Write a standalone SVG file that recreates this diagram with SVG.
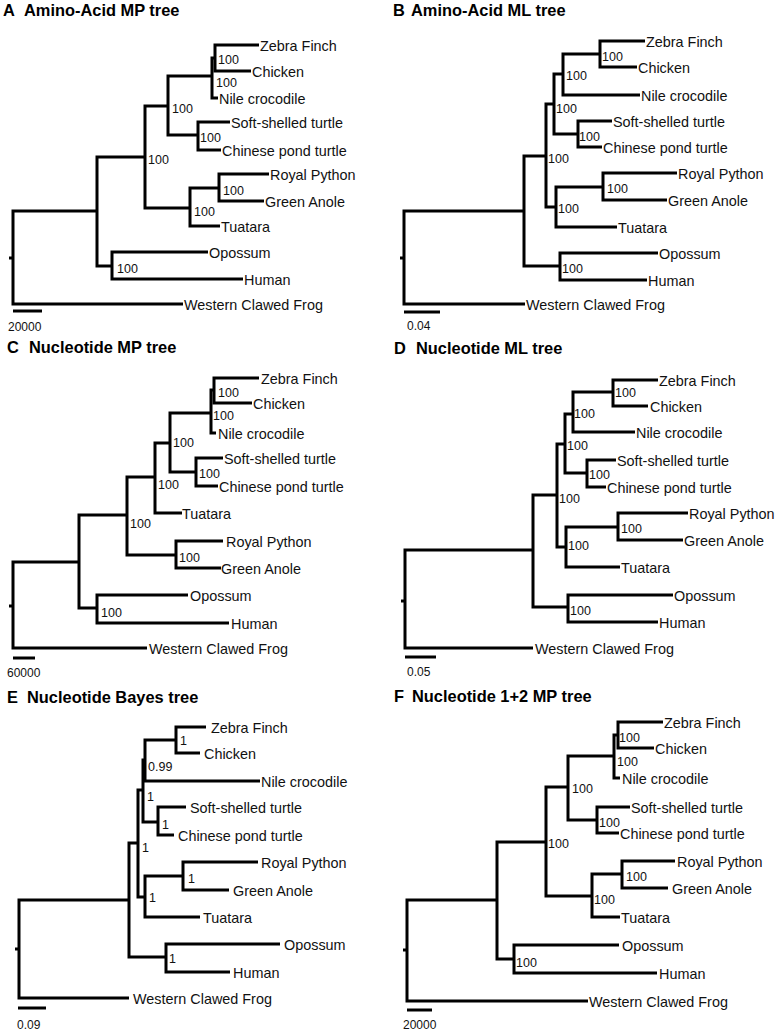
<svg xmlns="http://www.w3.org/2000/svg" width="777" height="1033" viewBox="0 0 777 1033">
<style>
.e{fill:none;stroke:#000;stroke-width:3;stroke-linejoin:miter;stroke-linecap:butt}
.t{font-family:"Liberation Sans",Arial,sans-serif;font-size:14.4px;fill:#111}
.s{font-family:"Liberation Sans",Arial,sans-serif;font-size:12.5px;fill:#111}
.k{font-family:"Liberation Sans",Arial,sans-serif;font-size:12px;fill:#111}
.h{font-family:"Liberation Sans",Arial,sans-serif;font-size:16.4px;font-weight:bold;fill:#000}
</style>
<rect width="777" height="1033" fill="#fff"/>

<!-- Panel A -->
<g id="panelA">
<g id="A-title"><text class="h" x="3" y="16">A</text><text class="h" x="24" y="16">Amino-Acid MP tree</text></g>
<g id="A-edges">
<path class="e" d="M97,211 H13 V304 H183"/>
<path class="e" d="M145,157 H97 V266 H112"/>
<path class="e" d="M168,106 H145 V208 H190"/>
<path class="e" d="M208,252 H112 V279 H243"/>
<path class="e" d="M212,76 H168 V135 H198"/>
<path class="e" d="M215,58 H212 V98 H218"/>
<path class="e" d="M259,45 H215 V71 H251"/>
<path class="e" d="M230,122 H198 V150 H221"/>
<path class="e" d="M219,188 H190 V226 H220"/>
<path class="e" d="M269,174 H219 V201 H264"/>
<path class="e" d="M9,258 H13"/>
<path class="e" d="M13,311 H42"/>
</g>
<g id="A-leaves">
<text class="t" x="260" y="51">Zebra Finch</text>
<text class="t" x="252" y="77">Chicken</text>
<text class="t" x="219" y="104">Nile crocodile</text>
<text class="t" x="231" y="128">Soft-shelled turtle</text>
<text class="t" x="222" y="156">Chinese pond turtle</text>
<text class="t" x="270" y="180">Royal Python</text>
<text class="t" x="265" y="207">Green Anole</text>
<text class="t" x="221" y="232">Tuatara</text>
<text class="t" x="209" y="258">Opossum</text>
<text class="t" x="244" y="285">Human</text>
<text class="t" x="184" y="310">Western Clawed Frog</text>
</g>
<g id="A-support">
<text class="s" x="218" y="64">100</text>
<text class="s" x="216" y="87">100</text>
<text class="s" x="172" y="113">100</text>
<text class="s" x="200" y="142">100</text>
<text class="s" x="223" y="195">100</text>
<text class="s" x="194" y="216">100</text>
<text class="s" x="148" y="164">100</text>
<text class="s" x="117" y="273">100</text>
</g>
<g id="A-scale"><text class="k" x="8" y="331">20000</text></g>
</g>

<!-- Panel B -->
<g id="panelB">
<g id="B-title"><text class="h" x="393" y="16">B</text><text class="h" x="411" y="16">Amino-Acid ML tree</text></g>
<g id="B-edges">
<path class="e" d="M524,211 H404 V304 H525"/>
<path class="e" d="M546,156 H524 V266 H560"/>
<path class="e" d="M658,253 H560 V280 H647"/>
<path class="e" d="M554,104 H546 V207 H556"/>
<path class="e" d="M563,74 H554 V134 H578"/>
<path class="e" d="M600,54 H563 V95 H640"/>
<path class="e" d="M645,41 H600 V67 H637"/>
<path class="e" d="M612,121 H578 V147 H602"/>
<path class="e" d="M603,187 H556 V227 H617"/>
<path class="e" d="M677,173 H603 V200 H667"/>
<path class="e" d="M400,258 H404"/>
<path class="e" d="M404,312 H440"/>
</g>
<g id="B-leaves">
<text class="t" x="646" y="47">Zebra Finch</text>
<text class="t" x="638" y="73">Chicken</text>
<text class="t" x="641" y="101">Nile crocodile</text>
<text class="t" x="613" y="127">Soft-shelled turtle</text>
<text class="t" x="603" y="153">Chinese pond turtle</text>
<text class="t" x="678" y="179">Royal Python</text>
<text class="t" x="668" y="206">Green Anole</text>
<text class="t" x="618" y="233">Tuatara</text>
<text class="t" x="659" y="259">Opossum</text>
<text class="t" x="648" y="286">Human</text>
<text class="t" x="526" y="310">Western Clawed Frog</text>
</g>
<g id="B-support">
<text class="s" x="602" y="61">100</text>
<text class="s" x="566" y="80">100</text>
<text class="s" x="556" y="113">100</text>
<text class="s" x="579" y="141">100</text>
<text class="s" x="607" y="193">100</text>
<text class="s" x="558" y="213">100</text>
<text class="s" x="548" y="163">100</text>
<text class="s" x="562" y="273">100</text>
</g>
<g id="B-scale"><text class="k" x="407" y="330">0.04</text></g>
</g>

<!-- Panel C -->
<g id="panelC">
<g id="C-title"><text class="h" x="7" y="353">C</text><text class="h" x="29" y="353">Nucleotide MP tree</text></g>
<g id="C-edges">
<path class="e" d="M79,562 H13 V648 H147"/>
<path class="e" d="M127,515 H79 V608 H97"/>
<path class="e" d="M188,595 H97 V623 H229"/>
<path class="e" d="M155,477 H127 V555 H176"/>
<path class="e" d="M170,443 H155 V513 H182"/>
<path class="e" d="M211,413 H170 V472 H196"/>
<path class="e" d="M214,390 H211 V433 H216"/>
<path class="e" d="M259,378 H214 V403 H252"/>
<path class="e" d="M223,458 H196 V486 H218"/>
<path class="e" d="M223,541 H176 V568 H221"/>
<path class="e" d="M9,606 H13"/>
<path class="e" d="M13,658 H35"/>
</g>
<g id="C-leaves">
<text class="t" x="261" y="384">Zebra Finch</text>
<text class="t" x="253" y="409">Chicken</text>
<text class="t" x="218" y="439">Nile crocodile</text>
<text class="t" x="224" y="464">Soft-shelled turtle</text>
<text class="t" x="219" y="492">Chinese pond turtle</text>
<text class="t" x="182" y="519">Tuatara</text>
<text class="t" x="226" y="547">Royal Python</text>
<text class="t" x="221" y="574">Green Anole</text>
<text class="t" x="190" y="601">Opossum</text>
<text class="t" x="231" y="629">Human</text>
<text class="t" x="149" y="654">Western Clawed Frog</text>
</g>
<g id="C-support">
<text class="s" x="218" y="397">100</text>
<text class="s" x="213" y="420">100</text>
<text class="s" x="173" y="447">100</text>
<text class="s" x="199" y="478">100</text>
<text class="s" x="158" y="489">100</text>
<text class="s" x="130" y="528">100</text>
<text class="s" x="179" y="562">100</text>
<text class="s" x="101" y="617">100</text>
</g>
<g id="C-scale"><text class="k" x="7" y="677">60000</text></g>
</g>

<!-- Panel D -->
<g id="panelD">
<g id="D-title"><text class="h" x="394" y="354">D</text><text class="h" x="416" y="354">Nucleotide ML tree</text></g>
<g id="D-edges">
<path class="e" d="M533,550 H405 V648 H533"/>
<path class="e" d="M557,495 H533 V607 H568"/>
<path class="e" d="M673,595 H568 V622 H658"/>
<path class="e" d="M565,444 H557 V547 H566"/>
<path class="e" d="M573,414 H565 V473 H587"/>
<path class="e" d="M613,392 H573 V432 H635"/>
<path class="e" d="M658,380 H613 V406 H648"/>
<path class="e" d="M616,460 H587 V487 H606"/>
<path class="e" d="M618,527 H566 V567 H620"/>
<path class="e" d="M688,513 H618 V540 H683"/>
<path class="e" d="M401,601 H405"/>
<path class="e" d="M405,657 H436"/>
</g>
<g id="D-leaves">
<text class="t" x="659" y="386">Zebra Finch</text>
<text class="t" x="650" y="412">Chicken</text>
<text class="t" x="636" y="438">Nile crocodile</text>
<text class="t" x="617" y="466">Soft-shelled turtle</text>
<text class="t" x="607" y="493">Chinese pond turtle</text>
<text class="t" x="689" y="519">Royal Python</text>
<text class="t" x="684" y="546">Green Anole</text>
<text class="t" x="621" y="573">Tuatara</text>
<text class="t" x="674" y="601">Opossum</text>
<text class="t" x="659" y="628">Human</text>
<text class="t" x="535" y="654">Western Clawed Frog</text>
</g>
<g id="D-support">
<text class="s" x="615" y="397">100</text>
<text class="s" x="574" y="418">100</text>
<text class="s" x="567" y="450">100</text>
<text class="s" x="589" y="479">100</text>
<text class="s" x="621" y="533">100</text>
<text class="s" x="568" y="550">100</text>
<text class="s" x="559" y="503">100</text>
<text class="s" x="570" y="615">100</text>
</g>
<g id="D-scale"><text class="k" x="407" y="676">0.05</text></g>
</g>

<!-- Panel E -->
<g id="panelE">
<g id="E-title"><text class="h" x="7" y="703">E</text><text class="h" x="27" y="703">Nucleotide Bayes tree</text></g>
<g id="E-edges">
<path class="e" d="M129,900 H19 V998 H129"/>
<path class="e" d="M138,843 H129 V957 H166"/>
<path class="e" d="M280,944 H166 V972 H230"/>
<path class="e" d="M143,790 H138 V897 H145"/>
<path class="e" d="M145,760 H143 V822 H158"/>
<path class="e" d="M176,740 H145 V781 H260"/>
<path class="e" d="M206,727 H176 V753 H200"/>
<path class="e" d="M186,807 H158 V835 H174"/>
<path class="e" d="M183,876 H145 V917 H200"/>
<path class="e" d="M258,862 H183 V890 H229"/>
<path class="e" d="M15,949 H19"/>
<path class="e" d="M18,1008 H46"/>
</g>
<g id="E-leaves">
<text class="t" x="211" y="733">Zebra Finch</text>
<text class="t" x="204" y="759">Chicken</text>
<text class="t" x="261" y="787">Nile crocodile</text>
<text class="t" x="190" y="813">Soft-shelled turtle</text>
<text class="t" x="178" y="841">Chinese pond turtle</text>
<text class="t" x="261" y="868">Royal Python</text>
<text class="t" x="233" y="896">Green Anole</text>
<text class="t" x="203" y="923">Tuatara</text>
<text class="t" x="284" y="950">Opossum</text>
<text class="t" x="233" y="978">Human</text>
<text class="t" x="133" y="1004">Western Clawed Frog</text>
</g>
<g id="E-support">
<text class="s" x="180" y="745">1</text>
<text class="s" x="148" y="771">0.99</text>
<text class="s" x="147" y="801">1</text>
<text class="s" x="162" y="829">1</text>
<text class="s" x="142" y="852">1</text>
<text class="s" x="188" y="883">1</text>
<text class="s" x="149" y="902">1</text>
<text class="s" x="169" y="963">1</text>
</g>
<g id="E-scale"><text class="k" x="17" y="1029">0.09</text></g>
</g>

<!-- Panel F -->
<g id="panelF">
<g id="F-title"><text class="h" x="394" y="702">F</text><text class="h" x="412" y="702">Nucleotide 1+2 MP tree</text></g>
<g id="F-edges">
<path class="e" d="M497,900 H407 V1001 H588"/>
<path class="e" d="M546,842 H497 V959 H514"/>
<path class="e" d="M619,945 H514 V973 H657"/>
<path class="e" d="M568,787 H546 V896 H592"/>
<path class="e" d="M614,756 H568 V820 H597"/>
<path class="e" d="M618,735 H614 V778 H620"/>
<path class="e" d="M663,722 H618 V748 H654"/>
<path class="e" d="M630,807 H597 V833 H619"/>
<path class="e" d="M622,874 H592 V917 H620"/>
<path class="e" d="M675,861 H622 V888 H668"/>
<path class="e" d="M403,950 H407"/>
<path class="e" d="M407,1010 H432"/>
</g>
<g id="F-leaves">
<text class="t" x="664" y="728">Zebra Finch</text>
<text class="t" x="655" y="754">Chicken</text>
<text class="t" x="622" y="784">Nile crocodile</text>
<text class="t" x="631" y="813">Soft-shelled turtle</text>
<text class="t" x="620" y="839">Chinese pond turtle</text>
<text class="t" x="677" y="867">Royal Python</text>
<text class="t" x="672" y="894">Green Anole</text>
<text class="t" x="621" y="923">Tuatara</text>
<text class="t" x="622" y="951">Opossum</text>
<text class="t" x="659" y="979">Human</text>
<text class="t" x="589" y="1007">Western Clawed Frog</text>
</g>
<g id="F-support">
<text class="s" x="619" y="742">100</text>
<text class="s" x="617" y="766">100</text>
<text class="s" x="572" y="793">100</text>
<text class="s" x="599" y="827">100</text>
<text class="s" x="548" y="848">100</text>
<text class="s" x="626" y="881">100</text>
<text class="s" x="594" y="904">100</text>
<text class="s" x="516" y="967">100</text>
</g>
<g id="F-scale"><text class="k" x="403" y="1029">20000</text></g>
</g>
</svg>
